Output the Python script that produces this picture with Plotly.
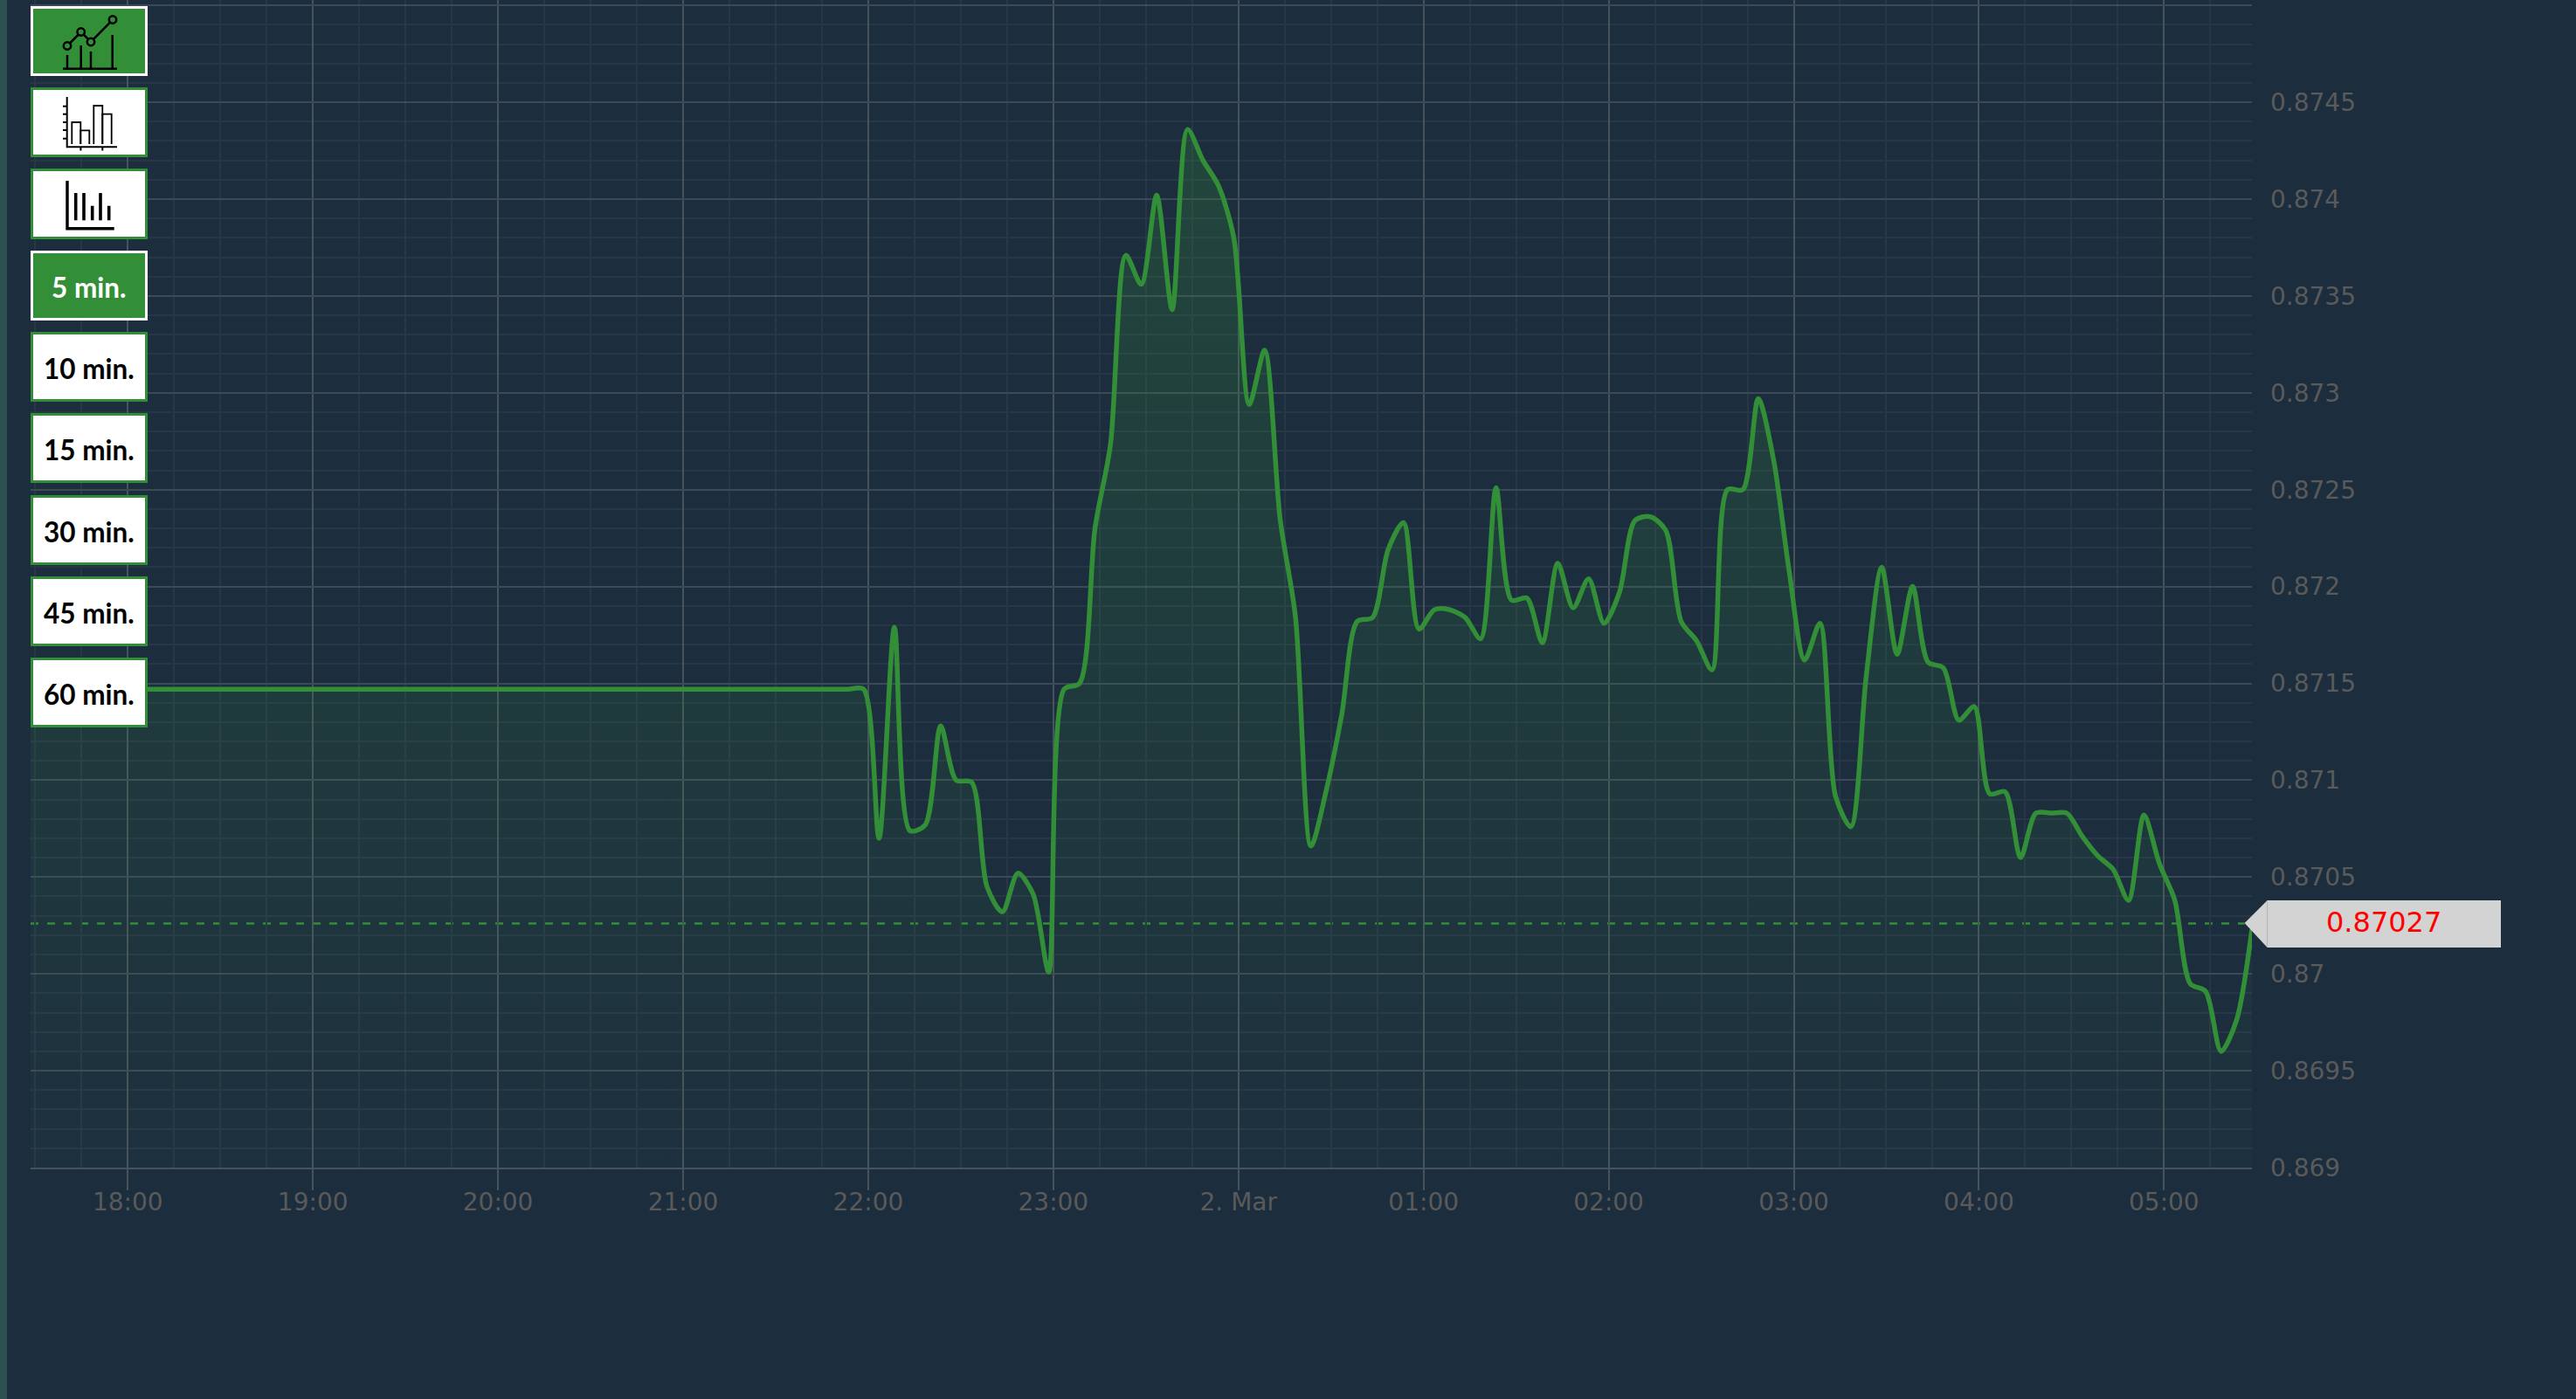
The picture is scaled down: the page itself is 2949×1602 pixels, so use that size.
import pandas as pd
import plotly.graph_objects as go

START = "2020-03-01 17:28:30"
STEP_MIN = 5

# closing values, one per 5-minute step
flat_values = [
    0.87147, 0.87147, 0.87147, 0.87147, 0.87147, 0.87147, 0.87147, 0.87147, 0.87147,
    0.87147, 0.87147, 0.87147, 0.87147, 0.87147, 0.87147, 0.87147, 0.87147, 0.87147,
    0.87147, 0.87147, 0.87147, 0.87147, 0.87147, 0.87147, 0.87147, 0.87147, 0.87147,
    0.87147, 0.87147, 0.87147, 0.87147, 0.87147, 0.87147, 0.87147, 0.87147, 0.87147,
    0.87147, 0.87147, 0.87147, 0.87147, 0.87147, 0.87147, 0.87147, 0.87147, 0.87147,
    0.87147, 0.87147, 0.87147, 0.87147, 0.87147, 0.87147, 0.87147, 0.87147, 0.87147,
]
active_values = [
    0.87147, 0.87070, 0.87179, 0.87074, 0.87077, 0.87128, 0.87100, 0.87099, 0.87045, 0.87032,
    0.87052, 0.87041, 0.87001, 0.87147, 0.87150, 0.87230, 0.87273, 0.87371, 0.87356, 0.87402,
    0.87343, 0.87436, 0.87420, 0.87407, 0.87380, 0.87294, 0.87322, 0.87235, 0.87184, 0.87066,
    0.87095, 0.87134, 0.87182, 0.87184, 0.87219, 0.87233, 0.87178, 0.87188, 0.87188, 0.87184,
    0.87173, 0.87251, 0.87193, 0.87194, 0.87171, 0.87212, 0.87189, 0.87204, 0.87181, 0.87197,
    0.87234, 0.87236, 0.87229, 0.87182, 0.87172, 0.87157, 0.87250, 0.87250, 0.87297, 0.87265,
    0.87208, 0.87162, 0.87181, 0.87092, 0.87076, 0.87154, 0.87210, 0.87165, 0.87200, 0.87161,
    0.87158, 0.87131, 0.87138, 0.87093, 0.87094, 0.87060, 0.87083, 0.87083, 0.87083, 0.87071,
    0.87061, 0.87054, 0.87038, 0.87082, 0.87057, 0.87038, 0.86995, 0.86991, 0.86960, 0.86976,
    0.87023,
]
prices = flat_values + active_values
times = pd.date_range(START, periods=len(prices), freq=f"{STEP_MIN}min")

PRICE_LINE = 0.87026
PRICE_LABEL = "0.87027"

y_ticks = [0.869, 0.8695, 0.87, 0.8705, 0.871, 0.8715, 0.872, 0.8725, 0.873, 0.8735, 0.874, 0.8745, 0.875]
y_labels = ["0.869", "0.8695", "0.87", "0.8705", "0.871", "0.8715", "0.872", "0.8725", "0.873", "0.8735", "0.874", "0.8745", ""]
x_ticks = ["2020-03-01 18:00", "2020-03-01 19:00", "2020-03-01 20:00", "2020-03-01 21:00", "2020-03-01 22:00",
           "2020-03-01 23:00", "2020-03-02 00:00", "2020-03-02 01:00", "2020-03-02 02:00", "2020-03-02 03:00",
           "2020-03-02 04:00", "2020-03-02 05:00"]
x_labels = ["18:00", "19:00", "20:00", "21:00", "22:00", "23:00", "2. Mar", "01:00", "02:00", "03:00", "04:00", "05:00"]
buttons = ["5 min.", "10 min.", "15 min.", "30 min.", "45 min.", "60 min."]

W, H = 2949, 1602
L, R, T, B = 35, 2578, 0, 1337
BG = "#1c2d3e"
GREEN = "#338f37"
TICK = "#5a5a5a"
FONT = "DejaVu Sans"


def px(x):
    return (x - L) / (R - L)


def py(y):
    return (B - y) / (B - T)


def path(points, close=False):
    s = "M" + " L".join(f"{px(a):.6f},{py(b):.6f}" for a, b in points)
    return s + (" Z" if close else "")


shapes = []


def add_rect(x0, y0, x1, y1, fill, line=None, lw=0):
    shapes.append(dict(type="rect", xref="paper", yref="paper", layer="above",
                       x0=px(x0), x1=px(x1), y0=py(y1), y1=py(y0), fillcolor=fill,
                       line=dict(color=line or fill, width=lw)))


def add_path(points, color, lw, close=False, fill=None):
    shapes.append(dict(type="path", xref="paper", yref="paper", layer="above",
                       path=path(points, close), fillcolor=fill or "rgba(0,0,0,0)",
                       line=dict(color=color, width=lw)))


def add_circle(cx, cy, r, color, lw, fill):
    shapes.append(dict(type="circle", xref="paper", yref="paper", layer="above",
                       x0=px(cx - r), x1=px(cx + r), y0=py(cy + r), y1=py(cy - r),
                       fillcolor=fill, line=dict(color=color, width=lw)))


# left strip
add_rect(0, 0, 8, H, "#2e4f50")

# button frames: (top, bottom, active)
frames = [(7, 87, True), (100, 180, False), (193, 274, False), (287, 367, True), (380, 460, False),
          (473, 553, False), (567, 647, False), (660, 740, False), (753, 833, False)]
for top, bot, active in frames:
    if active:
        add_rect(36.5, top + 1.5, 167.5, bot - 1.5, GREEN, "#ffffff", 3)
    else:
        add_rect(36.5, top + 1.5, 167.5, bot - 1.5, "#ffffff", GREEN, 3)

# icon 1: line over bars
K = "#000000"
add_path([(72, 78.7), (134, 78.7)], K, 2.5)
for bx, by in [(77, 63), (92.7, 52), (104, 59), (128.7, 40)]:
    add_path([(bx, by), (bx, 78.7)], K, 2.5)
add_path([(77, 52.5), (92.7, 36.5), (104, 48), (129, 22.5)], K, 2.5)
for cx, cy in [(77, 52.5), (92.7, 36.5), (104, 48), (129, 22.5)]:
    add_circle(cx, cy, 4.2, K, 2.5, GREEN)

# icon 2: outlined bars with axes
add_path([(76.7, 111), (76.7, 168.3), (134, 168.3)], K, 2)
for ty in [121.7, 130.7, 140, 149, 158.7]:
    add_path([(72, ty), (76.7, ty)], K, 2)
for tx in [92.4, 117.3]:
    add_path([(tx, 168.3), (tx, 172.5)], K, 2)
for x0, x1, top in [(82.3, 92.3, 140), (92.3, 102.3, 149.3), (107.3, 117.3, 121), (117.3, 127.7, 130.7)]:
    add_path([(x0, 165), (x0, top), (x1, top), (x1, 165)], K, 1.8)

# icon 3: solid bars with axes
add_path([(77, 207), (77, 261.7), (130.7, 261.7)], K, 3.4)
for bx, top in [(86.7, 221), (96, 221), (105.7, 235.7), (115, 221), (124.7, 235.7)]:
    add_path([(bx, top), (bx, 252.3)], K, 3.6)

# current price tag
add_path([(2569.6, 1057), (2595.6, 1031), (2863, 1031), (2863, 1085), (2595.6, 1085)], "#d3d3d3", 0, True, "#d3d3d3")
add_path([(2595.6, 1031), (2595.6, 1085)], "#b4b4b4", 1)

# current price line
shapes.append(dict(type="line", xref="paper", yref="y", layer="below", x0=0, x1=px(2569.6),
                   y0=PRICE_LINE, y1=PRICE_LINE, line=dict(color=GREEN, width=2.5, dash="9px 10px")))

annotations = [
    dict(xref="paper", yref="paper", x=px(2729), y=py(1056), text=PRICE_LABEL, showarrow=False,
         font=dict(family=FONT, size=32, color="#ff0000"), xanchor="center", yanchor="middle"),
]
for i, (label, (top, bot, active)) in enumerate(zip(buttons, frames[3:])):
    annotations.append(dict(xref="paper", yref="paper", x=px(102), y=py((top + bot) / 2 + 2), text=label,
                            showarrow=False, xanchor="center", yanchor="middle",
                            font=dict(family="Lato", size=31.5, weight=700,
                                      color="#ffffff" if active else "#000000")))

fig = go.Figure(go.Scatter(
    x=times, y=prices, mode="lines", hoverinfo="skip",
    line=dict(color=GREEN, width=5.5, shape="spline", smoothing=0.8),
    fill="tozeroy",
    fillgradient=dict(type="vertical", start=0.869, stop=0.8745,
                      colorscale=[[0, "rgba(51,143,55,0.03)"], [1, "rgba(51,143,55,0.26)"]]),
))

fig.update_layout(
    width=W, height=H, margin=dict(l=L, r=W - R, t=T, b=H - B, pad=0),
    paper_bgcolor=BG, plot_bgcolor=BG, showlegend=False,
    shapes=shapes, annotations=annotations,
)
fig.update_xaxes(
    type="date", range=[times[0], times[-1]],
    tickmode="array", tickvals=x_ticks, ticktext=x_labels,
    tickfont=dict(family=FONT, size=28, color=TICK),
    ticks="outside", ticklen=24, tickwidth=2, tickcolor="#47525c", ticklabelstandoff=-11,
    showgrid=True, gridcolor="#47525c", gridwidth=2,
    showline=True, linecolor="#47525c", linewidth=2, zeroline=False,
    minor=dict(tickmode="linear", tick0="2020-03-01 18:00", dtick=900000, showgrid=True,
               gridcolor="#273747", gridwidth=2, ticks=""),
)
fig.update_yaxes(
    range=[0.869, 0.869 + 1337 / 221800], side="right",
    tickmode="array", tickvals=y_ticks, ticktext=y_labels,
    tickfont=dict(family=FONT, size=28, color=TICK), ticks="", ticklabelstandoff=20,
    showgrid=True, gridcolor="#3c4956", gridwidth=2, zeroline=False, showline=False,
    minor=dict(tickmode="linear", tick0=0.869, dtick=0.0001, showgrid=True,
               gridcolor="#273747", gridwidth=2, ticks=""),
)

fig.write_html(
    "out.html",
    config={"displayModeBar": False},
    post_script=f"document.body.style.margin='0';document.body.style.overflow='hidden';document.body.style.background='{BG}';",
)
